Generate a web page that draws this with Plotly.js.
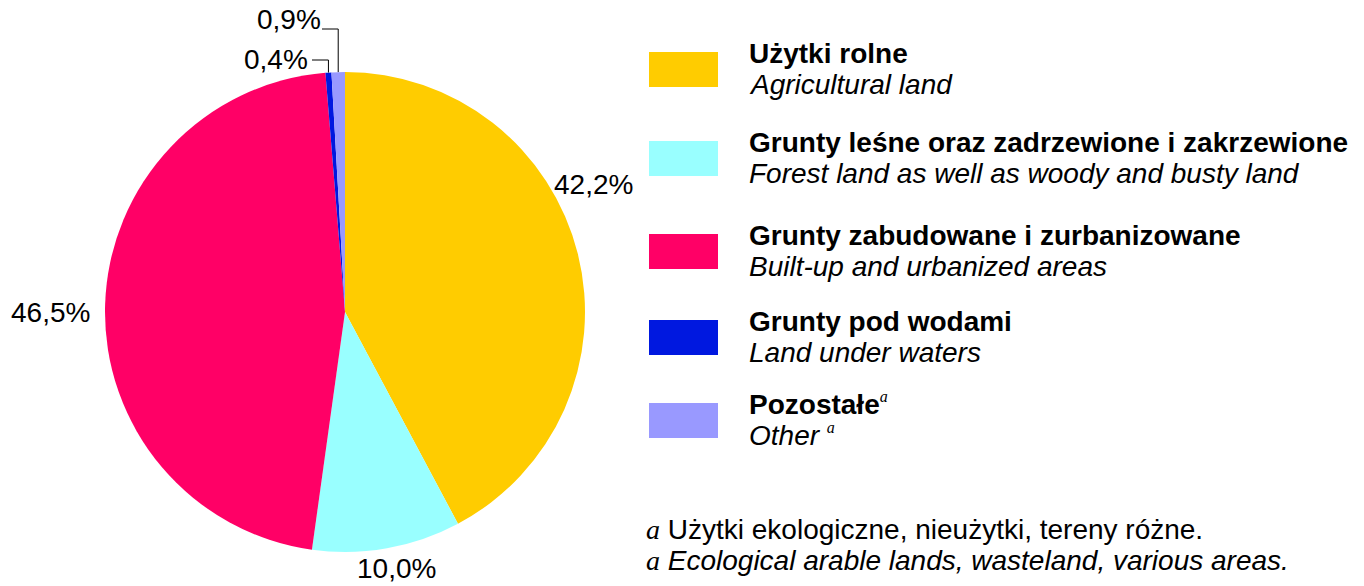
<!DOCTYPE html>
<html><head><meta charset="utf-8">
<script src="https://cdn.plot.ly/plotly-3.0.1.min.js"></script>
<style>html,body{margin:0;padding:0;background:#fff}#chart{width:1364px;height:586px}</style>
</head><body><div id="chart"></div>
<script>
const categoriesPL = ["Użytki rolne", "Grunty leśne oraz zadrzewione i zakrzewione", "Grunty zabudowane i zurbanizowane", "Grunty pod wodami", "Pozostałe"];
const categoriesEN = ["Agricultural land", "Forest land as well as woody and busty land", "Built-up and urbanized areas", "Land under waters", "Other"];
const shares = [42.2, 10.0, 46.5, 0.4, 0.9];
const colors = ["#FFCC00", "#99FFFF", "#FF0066", "#0018E0", "#9999FF"];
const footnotePL = "Użytki ekologiczne, nieużytki, tereny różne.";
const footnoteEN = "Ecological arable lands, wasteland, various areas.";

const W = 1364, H = 586;
const px = x => x / W, py = y => 1 - y / H;
const cx = 345, cy = 312, R = 240;
const FONT = "Liberation Sans, Arial, sans-serif";
const SERIF = "Liberation Serif, Times New Roman, serif";
const FS = 28;
const fmt = v => v.toFixed(1).replace(".", ",") + "%";

const trace = {
  type: "pie", values: shares, labels: categoriesEN, sort: false, direction: "clockwise",
  rotation: 0, marker: {colors: colors, line: {width: 0}}, textinfo: "none", hoverinfo: "none",
  domain: {x: [px(cx - R), px(cx + R)], y: [py(cy + R), py(cy - R)]}, showlegend: false
};

// label anchor positions (pixels) for each slice's percentage
const labelPos = [[593, 185], [396, 568], [50, 312], [276, 60], [289, 20]];
const annotations = [], shapes = [];
shares.forEach((v, i) => {
  annotations.push({x: px(labelPos[i][0]), y: py(labelPos[i][1]), xref: "paper", yref: "paper",
    text: fmt(v), showarrow: false, xanchor: "center", yanchor: "middle",
    font: {family: FONT, size: FS, color: "#000"}});
});
// leader lines for the two tiny slices, ending at each slice's mid-angle on the rim
const total = shares.reduce((a, b) => a + b, 0);
let cum = 0;
const mids = shares.map(v => { const m = (cum + v / 2) / total; cum += v; return m; });
[[3, 312, 60], [4, 322, 29]].forEach(([i, xStart, yLine]) => {
  const ang = mids[i] * 2 * Math.PI;
  const ex = cx + R * Math.sin(ang), ey = cy - R * Math.cos(ang);
  shapes.push({type: "path", xref: "paper", yref: "paper",
    path: `M ${px(xStart)} ${py(yLine)} L ${px(ex)} ${py(yLine)} L ${px(ex)} ${py(ey)}`,
    line: {color: "#000", width: 1}});
});
// custom legend
const rectTops = [52, 141, 234, 320, 403];
categoriesPL.forEach((name, i) => {
  const t = rectTops[i];
  shapes.push({type: "rect", xref: "paper", yref: "paper", x0: px(649), x1: px(718), y0: py(t), y1: py(t + 35),
    fillcolor: colors[i], line: {width: 0}});
  const sup = i === 4 ? "<sup><span style=\"font-family:" + SERIF + ";font-size:16px\"><i>a</i></span></sup>" : "";
  annotations.push({x: px(747), y: py(t + 1), xref: "paper", yref: "paper", text: "<b>" + name + "</b>" + sup,
    showarrow: false, xanchor: "left", yanchor: "middle", font: {family: FONT, size: FS, color: "#000"}});
  annotations.push({x: px(747), y: py(t + 32), xref: "paper", yref: "paper", text: "<i>" + categoriesEN[i] + "</i>" + (i === 4 ? " " + sup : ""),
    showarrow: false, xanchor: "left", yanchor: "middle", font: {family: FONT, size: FS, color: "#000"}});
});
const aMark = "<span style=\"font-family:" + SERIF + "\"><i>a</i></span> ";
annotations.push({x: px(644), y: py(529), xref: "paper", yref: "paper", text: aMark + footnotePL,
  showarrow: false, xanchor: "left", yanchor: "middle", font: {family: FONT, size: FS, color: "#000"}});
annotations.push({x: px(644), y: py(560), xref: "paper", yref: "paper", text: aMark + "<i>" + footnoteEN + "</i>",
  showarrow: false, xanchor: "left", yanchor: "middle", font: {family: FONT, size: FS, color: "#000"}});

const layout = {width: W, height: H, margin: {l: 0, r: 0, t: 0, b: 0}, paper_bgcolor: "#fff",
  showlegend: false, annotations: annotations, shapes: shapes};
Plotly.newPlot("chart", [trace], layout, {staticPlot: true});
</script></body></html>
